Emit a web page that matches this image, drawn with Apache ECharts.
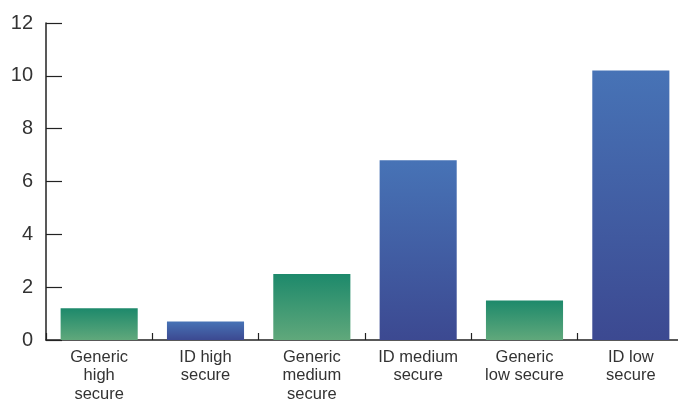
<!DOCTYPE html>
<html>
<head>
<meta charset="utf-8">
<script src="https://cdn.jsdelivr.net/npm/echarts@6/dist/echarts.min.js"></script>
<style>
  html, body { margin: 0; padding: 0; background: #fff; overflow: hidden; }
  #chart { width: 678px; height: 400px; }
</style>
</head>
<body>
<div id="chart"></div>
<script>
// Unit categories and their values
const categories = [
  'Generic\nhigh\nsecure',
  'ID high\nsecure',
  'Generic\nmedium\nsecure',
  'ID medium\nsecure',
  'Generic\nlow secure',
  'ID low\nsecure'
];
const values = [1.2, 0.7, 2.5, 6.8, 1.5, 10.2];
const unitType = ['generic', 'id', 'generic', 'id', 'generic', 'id'];
const yTicks = [0, 2, 4, 6, 8, 10, 12];

const gradients = {
  generic: new echarts.graphic.LinearGradient(0, 0, 0, 1, [
    { offset: 0, color: '#1d896b' },
    { offset: 1, color: '#60a87b' }
  ]),
  id: new echarts.graphic.LinearGradient(0, 0, 0, 1, [
    { offset: 0, color: '#4773b6' },
    { offset: 1, color: '#3c4991' }
  ])
};

const chart = echarts.init(document.getElementById('chart'), null, { renderer: 'canvas' });
chart.setOption({
  animation: false,
  grid: {
    left: 46, top: 23, width: 638, height: 317,
    containLabel: false, outerBoundsMode: 'none'
  },
  xAxis: {
    type: 'category',
    data: categories,
    axisLine: { lineStyle: { color: '#222', width: 1.5 } },
    axisTick: { show: true, inside: true, length: 7, lineStyle: { color: '#222', width: 1.2 } },
    axisLabel: {
      color: '#333', fontFamily: 'Liberation Sans, Arial, sans-serif', fontSize: 16.5,
      lineHeight: 18.5, margin: 8, interval: 0
    }
  },
  yAxis: {
    type: 'value',
    min: yTicks[0],
    max: yTicks[yTicks.length - 1],
    interval: 2,
    splitLine: { show: false },
    axisLine: { show: true, lineStyle: { color: '#222', width: 1.5 } },
    axisTick: { show: true, inside: true, length: 16, lineStyle: { color: '#222', width: 1.2 } },
    axisLabel: {
      color: '#333', fontFamily: 'Liberation Sans, Arial, sans-serif', fontSize: 20, margin: 13
    }
  },
  series: [{
    type: 'bar',
    barWidth: '72.5%',
    data: values.map((v, i) => ({ value: v, itemStyle: { color: gradients[unitType[i]] } }))
  }]
});
</script>
</body>
</html>
